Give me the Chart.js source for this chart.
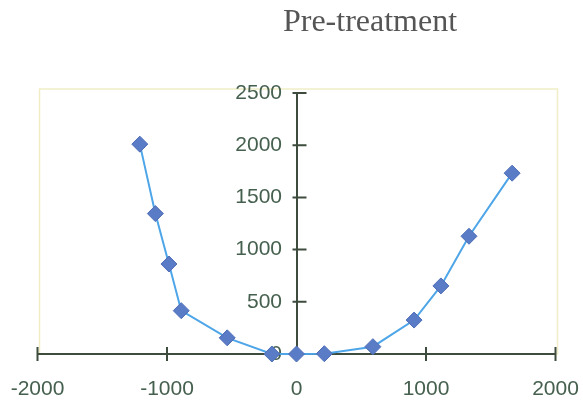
<!DOCTYPE html>
<html>
<head>
<meta charset="utf-8">
<script src="https://cdn.jsdelivr.net/npm/chart.js@4/dist/chart.umd.min.js"></script>
<style>
  html, body { margin: 0; padding: 0; background: #ffffff; }
  #wrap { width: 583px; height: 408px; }
</style>
</head>
<body>
<div id="wrap"><canvas id="chart" width="583" height="408"></canvas></div>
<script>
// Pre-treatment curve: horizontal position vs. measured value
const xValues = [-1210, -1090, -985, -890, -535, -190, 0, 215, 590, 908, 1115, 1332, 1665];
const yValues = [2010, 1345, 862, 415, 155, 0, 0, 3, 70, 325, 652, 1128, 1732];
const xTicks = [-2000, -1000, 0, 1000, 2000];
const yTicks = [0, 500, 1000, 1500, 2000, 2500];
const titleText = 'Pre-treatment';

const points = xValues.map((x, i) => ({ x: x, y: yValues[i] }));

const axisColor = '#3e4c3e';
const labelColor = '#46604f';
const labelFont = { family: '"Liberation Sans", Arial, sans-serif', size: 21 };

// Pale frame around the plotting region
const framePlugin = {
  id: 'frame',
  beforeDraw(chart) {
    const { ctx, chartArea: a } = chart;
    ctx.save();
    ctx.strokeStyle = '#f1eec6';
    ctx.lineWidth = 1.5;
    ctx.strokeRect(a.left + 2, a.top - 4, a.right - a.left, a.bottom - a.top + 4);
    ctx.restore();
  }
};

// Tick marks that cross both axis lines
const crossTicksPlugin = {
  id: 'crossTicks',
  beforeDatasetsDraw(chart) {
    const { ctx, scales } = chart;
    const xs = scales.x, ys = scales.y;
    const y0 = ys.getPixelForValue(0);
    const x0 = xs.getPixelForValue(0);
    ctx.save();
    ctx.strokeStyle = axisColor;
    ctx.lineWidth = 2;
    ctx.beginPath();
    xs.ticks.forEach(t => {
      if (t.value === 0) return;
      const px = xs.getPixelForValue(t.value);
      ctx.moveTo(px, y0 - 7);
      ctx.lineTo(px, y0 + 7);
    });
    ys.ticks.forEach(t => {
      if (t.value === 0) return;
      const py = ys.getPixelForValue(t.value);
      ctx.moveTo(x0 - 4, py);
      ctx.lineTo(x0 + 10, py);
    });
    ctx.stroke();
    ctx.restore();
  }
};

// Chart heading
const headingPlugin = {
  id: 'heading',
  afterDraw(chart) {
    const { ctx } = chart;
    ctx.save();
    ctx.font = '32px "Liberation Serif", "Times New Roman", serif';
    ctx.fillStyle = '#555555';
    ctx.textAlign = 'center';
    ctx.textBaseline = 'alphabetic';
    ctx.fillText(titleText, 370, 31);
    ctx.restore();
  }
};

const noPadX = s => { s.height = 0; s.paddingLeft = 0; s.paddingRight = 0; };
const noPadY = s => { s.width = 0; s.paddingTop = 0; s.paddingBottom = 0; };

new Chart(document.getElementById('chart'), {
  type: 'scatter',
  data: {
    datasets: [{
      data: points,
      xAxisID: 'x',
      yAxisID: 'y',
      showLine: true,
      borderColor: '#4ea6e8',
      borderWidth: 2,
      pointStyle: 'rectRot',
      pointRadius: 8,
      pointHoverRadius: 8,
      pointBackgroundColor: '#5a7cc6',
      pointBorderColor: '#4d6db6',
      pointBorderWidth: 1,
      clip: false
    }]
  },
  options: {
    responsive: false,
    animation: false,
    events: [],
    layout: { padding: { left: 37.5, right: 27.5, top: 93, bottom: 54 } },
    plugins: {
      legend: { display: false },
      title: { display: false },
      tooltip: { enabled: false }
    },
    scales: {
      x: {
        type: 'linear',
        min: -2000,
        max: 2000,
        position: { y: 0 },
        afterBuildTicks: s => { s.ticks = xTicks.map(v => ({ value: v })); },
        afterFit: noPadX,
        grid: { display: false, drawTicks: false },
        border: { display: true, color: axisColor, width: 2 },
        ticks: {
          padding: 23,
          color: labelColor,
          font: labelFont,
          maxRotation: 0,
          autoSkip: false,
          callback: v => String(v)
        }
      },
      // value axis: the line through x = 0
      y: {
        type: 'linear',
        min: 0,
        max: 2500,
        position: { x: 0 },
        afterBuildTicks: s => { s.ticks = yTicks.map(v => ({ value: v })); },
        afterFit: noPadY,
        grid: { display: false, drawTicks: false },
        border: { display: true, color: axisColor, width: 2 },
        ticks: { display: false }
      },
      // value labels, set just left of the axis line
      yLabels: {
        type: 'linear',
        axis: 'y',
        min: 0,
        max: 2500,
        position: { x: -112 },
        afterBuildTicks: s => { s.ticks = yTicks.map(v => ({ value: v })); },
        afterFit: noPadY,
        grid: { display: false, drawTicks: false },
        border: { display: false },
        ticks: {
          color: labelColor,
          font: labelFont,
          autoSkip: false,
          callback: v => String(v)
        }
      }
    }
  },
  plugins: [framePlugin, crossTicksPlugin, headingPlugin]
});
</script>
</body>
</html>
